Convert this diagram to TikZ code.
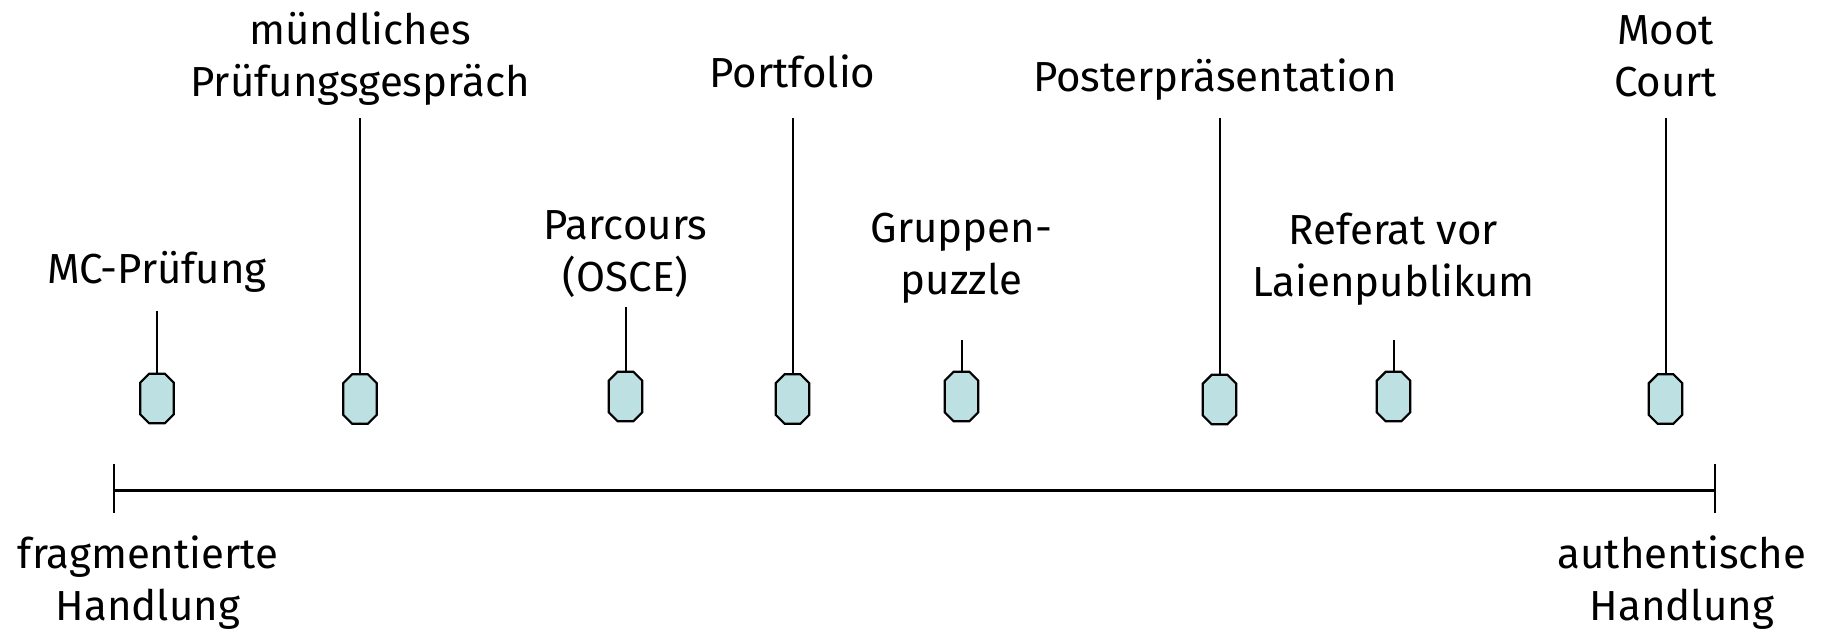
\documentclass[tikz,border=0pt]{standalone}
\usepackage{fontspec}
\setmainfont{Fira Sans}
\definecolor{octfill}{HTML}{BDE1E3}
\tikzset{
  oct/.style={rectangle, draw=none, minimum width=24.75pt, minimum height=36.75pt, inner sep=0pt},
  octline/.style={draw=black, line width=1.6pt, fill=octfill, line join=miter},
  lbl/.style={align=center, anchor=base, inner sep=0pt, font=\fontsize{31.5}{38.5}\selectfont},
  stem/.style={line width=1.5pt},
  axis/.style={line width=1.8pt}
}
\begin{document}
\begin{tikzpicture}[x=0.75pt,y=-0.75pt]
\useasboundingbox (0,0) rectangle (1822,629);
% octagons
\node[oct] (o1) at (157,398.5) {};
\node[oct] (o2) at (360,399) {};
\node[oct] (o3) at (625.5,396.5) {};
\node[oct] (o4) at (792.5,399) {};
\node[oct] (o5) at (961.5,396.5) {};
\node[oct] (o6) at (1219.5,399.5) {};
\node[oct] (o7) at (1393.5,396.5) {};
\node[oct] (o8) at (1665.5,399) {};
\foreach \i in {1,...,8}
  \draw[octline] ([xshift=6.75pt]o\i.north west) -- ([xshift=-6.75pt]o\i.north east)
     -- ([yshift=-6.75pt]o\i.north east) -- ([yshift=6.75pt]o\i.south east)
     -- ([xshift=-6.75pt]o\i.south east) -- ([xshift=6.75pt]o\i.south west)
     -- ([yshift=6.75pt]o\i.south west) -- ([yshift=-6.75pt]o\i.north west) -- cycle;
% labels (anchored at baseline of last line)
\node[lbl] (l1) at (157,283) {MC-Prüfung};
\node[lbl] (l2) at (360,96) {mündliches\\Prüfungsgespräch};
\node[lbl] (l3) at (625.5,291) {Parcours\\(OSCE)};
\node[lbl] (l4) at (792.5,87) {Portfolio};
\node[lbl] (l5) at (961.5,294) {Gruppen-\\puzzle};
\node[lbl] (l6) at (1215,91) {Posterpräsentation};
\node[lbl] (l7) at (1393.5,296) {Referat vor\\Laienpublikum};
\node[lbl] (l8) at (1665.5,96) {Moot\\Court};
\node[lbl] (f) at (148,620) {fragmentierte\\Handlung};
\node[lbl] (a) at (1682,620) {authentische\\Handlung};
% stem tops
\coordinate (s1) at (157,311);
\coordinate (s2) at (360,118);
\coordinate (s3) at (625.5,307);
\coordinate (s4) at (792.5,118);
\coordinate (s5) at (961.5,340);
\coordinate (s6) at (1219.5,118);
\coordinate (s7) at (1393.5,340);
\coordinate (s8) at (1665.5,118);
\foreach \i in {1,...,8} \draw[stem] (s\i) -- (o\i.north);
% axis
\coordinate (ax0) at (114,490.5);
\coordinate (ax1) at (1715,490.5);
\coordinate (t0a) at (114,464);
\coordinate (t0b) at (114,513);
\coordinate (t1a) at (1715,464);
\coordinate (t1b) at (1715,513);
\draw[axis] (ax0) -- (ax1);
\draw[axis] (t0a) -- (t0b);
\draw[axis] (t1a) -- (t1b);
\end{tikzpicture}
\end{document}
